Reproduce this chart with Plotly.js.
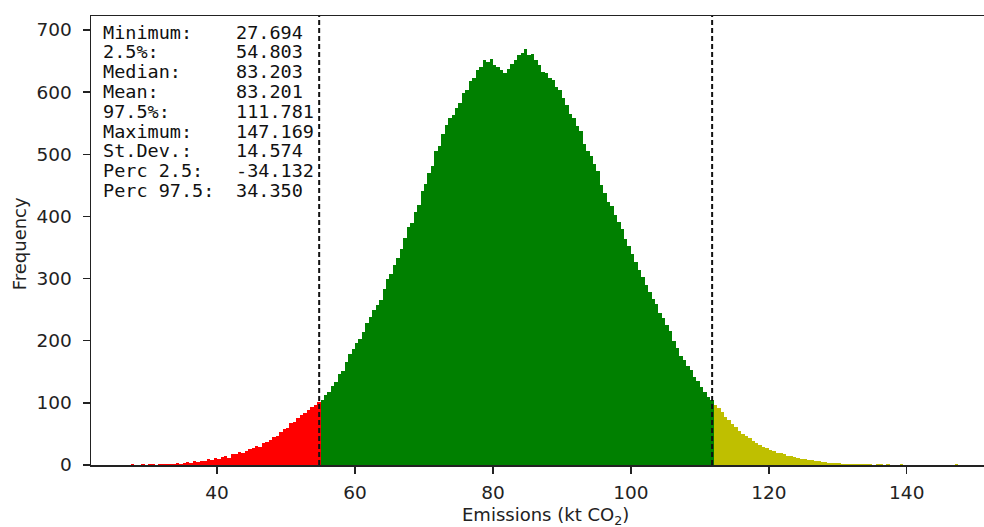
<!DOCTYPE html>
<html>
<head>
<meta charset="utf-8">
<script src="https://cdn.plot.ly/plotly-3.0.1.min.js"></script>
<style>html,body{margin:0;padding:0;background:#fff;}#chart{width:984px;height:527px;}</style>
</head>
<body>
<div id="chart"></div>
<script>
// Histogram: bin start, bin width and frequencies
const binStart = 27.5;
const binWidth = 0.5;
const frequencies = [
  1,0,0,1,0,1,1,0,1,2,1,2,2,3,2,
  4,5,3,6,5,7,6,9,8,11,
  10,13,15,12,17,18,21,19,23,26,
  27,31,29,35,37,41,45,47,53,58,
  60,67,70,75,81,84,89,93,97,101,
  104,113,118,127,133,146,152,166,178,186,
  196,203,214,229,238,250,257,266,283,299,
  307,322,333,347,365,383,390,407,419,441,
  452,470,481,506,514,532,547,558,563,575,
  583,598,604,618,622,636,641,652,648,653,
  644,640,636,630,637,645,652,660,663,670,
  659,662,651,643,633,631,622,619,608,604,
  591,579,565,558,546,538,517,505,497,485,
  473,451,438,424,416,403,391,379,364,353,
  339,327,313,302,289,279,267,259,244,237,
  225,215,199,188,175,169,159,153,141,135,
  126,118,110,104,97,92,85,77,72,66,
  61,55,50,46,43,39,36,32,29,27,
  24,23,20,19,17,15,14,13,11,10,
  9,8,8,7,6,5,5,4,3,3,
  3,2,2,2,1,1,1,1,1,1,
  0,1,1,0,1,0,0,0,1,0,
  0,0,0,0,0,0,0,0,0,0,
  0,0,0,0,1
];
const lowerPerc = 54.803;
const upperPerc = 111.781;
const statLabels = ["Minimum:", "2.5%:", "Median:", "Mean:", "97.5%:", "Maximum:", "St.Dev.:", "Perc 2.5:", "Perc 97.5:"];
const statValues = ["27.694", "54.803", "83.203", "83.201", "111.781", "147.169", "14.574", "-34.132", "34.350"];
const xTicks = [40, 60, 80, 100, 120, 140];
const yTicks = [0, 100, 200, 300, 400, 500, 600, 700];

const centers = frequencies.map((_, i) => binStart + binWidth * (i + 0.5));
const colors = centers.map(c => c < lowerPerc ? "#ff0000" : (c > upperPerc ? "#bfbf00" : "#008000"));

const trace = {
  type: "bar",
  x: centers,
  y: frequencies,
  width: binWidth,
  marker: {color: colors, line: {width: 0}},
  hoverinfo: "x+y"
};

// plot area in pixels
const L = 90.7, R = 984, T = 16, B = 465;
const W = 984, H = 527;
const px = x => (x - L) / (R - L);
const py = y => (B - y) / (B - T);

const annotations = [];
statLabels.forEach((lab, i) => {
  const yc = 32 + i * 19.8;
  annotations.push({xref: "paper", yref: "paper", x: px(100.5), y: py(yc), xanchor: "left", yanchor: "middle",
    text: lab, showarrow: false, font: {family: "DejaVu Sans Mono", size: 18.5, color: "#111"}});
  annotations.push({xref: "paper", yref: "paper", x: px(234), y: py(yc), xanchor: "left", yanchor: "middle",
    text: statValues[i], showarrow: false, font: {family: "DejaVu Sans Mono", size: 18.5, color: "#111"}});
});
annotations.push({xref: "paper", yref: "paper", x: px(545), y: py(516), xanchor: "center", yanchor: "middle",
  text: "Emissions (kt CO<sub>2</sub>)", showarrow: false, font: {family: "DejaVu Sans", size: 18, color: "#222"}});
annotations.push({xref: "paper", yref: "paper", x: px(19), y: py(244), xanchor: "center", yanchor: "middle", textangle: -90,
  text: "Frequency", showarrow: false, font: {family: "DejaVu Sans", size: 18, color: "#222"}});

const shapes = [lowerPerc, upperPerc].map(v => ({
  type: "line", xref: "x", yref: "paper", x0: v, x1: v, y0: 0, y1: 1,
  line: {color: "#111", width: 2, dash: "5px,3px"}, layer: "above"
}));

const layout = {
  width: W, height: H,
  margin: {l: L, r: W - R, t: T, b: H - B, pad: 0},
  paper_bgcolor: "#fff", plot_bgcolor: "#fff",
  showlegend: false,
  bargap: 0,
  xaxis: {
    range: [21.72, 151.2], tickmode: "array", tickvals: xTicks, ticktext: xTicks.map(String),
    ticks: "outside", ticklen: 7, tickwidth: 1.4, tickcolor: "#222", ticklabelstandoff: 3,
    showgrid: false, zeroline: false, showline: true, linecolor: "#222", linewidth: 1.5, mirror: true,
    tickfont: {family: "DejaVu Sans", size: 18.5, color: "#222"}, fixedrange: true
  },
  yaxis: {
    range: [0, 722.5], tickmode: "array", tickvals: yTicks, ticktext: yTicks.map(String),
    ticks: "outside", ticklen: 7, tickwidth: 1.4, tickcolor: "#222", ticklabelstandoff: 7,
    showgrid: false, zeroline: false, showline: true, linecolor: "#222", linewidth: 1.5,
    tickfont: {family: "DejaVu Sans", size: 18.5, color: "#222"}, fixedrange: true
  },
  annotations: annotations,
  shapes: shapes
};

Plotly.newPlot("chart", [trace], layout, {displayModeBar: false, staticPlot: true});
</script>
</body>
</html>
